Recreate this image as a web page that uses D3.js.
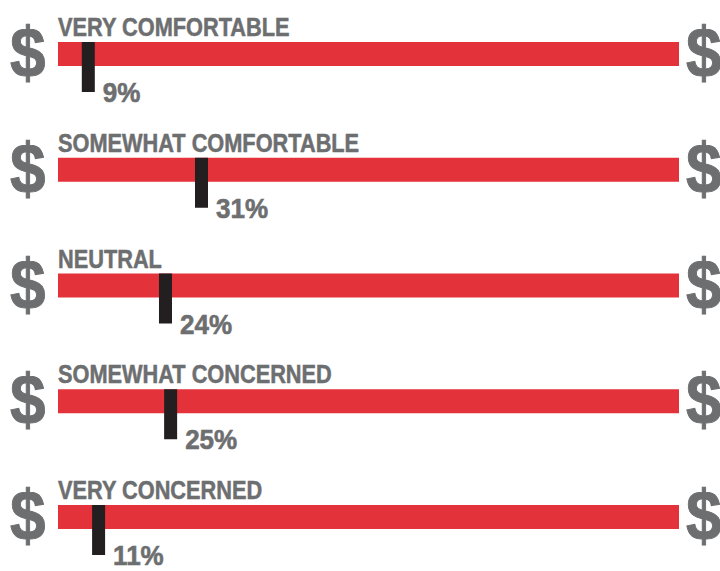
<!DOCTYPE html>
<html><head><meta charset="utf-8">
<script src="https://cdn.jsdelivr.net/npm/d3@7"></script>
<style>html,body{margin:0;padding:0;background:#fff;}</style>
</head><body>
<svg id="chart" width="720" height="571"></svg>
<script>
const categories = ["VERY COMFORTABLE","SOMEWHAT COMFORTABLE","NEUTRAL","SOMEWHAT CONCERNED","VERY CONCERNED"];
const values = [9, 31, 24, 25, 11];
const valueLabels = ["9%","31%","24%","25%","11%"];

const W = 720, H = 571;
const svg = d3.select("#chart");
const red = "#e3323a", gray = "#6d6e70", dark = "#231f20";
const font = "'Liberation Sans',Arial,Helvetica,sans-serif";

const y = d3.scalePoint().domain(categories).range([42, 505]);
const x = d3.scaleLinear().domain([0, 100]).range([42, 556.5]);
const barX0 = 58, barX1 = 679, barH = 24, mW = 13, mH = 50;

const data = categories.map((c, i) => ({c, v: values[i], l: valueLabels[i]}));
const g = svg.selectAll("g.row").data(data).join("g").attr("class","row")
  .attr("transform", d => `translate(0,${y(d.c)})`);

g.append("rect").attr("x", barX0).attr("y", 0).attr("width", barX1 - barX0).attr("height", barH).attr("fill", red);

g.append("text").attr("transform", `translate(${barX0},-6) scale(0.87,1)`)
  .attr("font-family", font).attr("font-weight", "bold").attr("font-size", 25)
  .attr("fill", gray).attr("stroke", gray).attr("stroke-width", 0.5).text(d => d.c);

g.append("rect").attr("x", d => x(d.v) - mW/2).attr("y", 0).attr("width", mW).attr("height", mH).attr("fill", dark);

g.append("text").attr("transform", d => `translate(${x(d.v) + mW/2 + 8},${mH + 10}) scale(0.93,1)`)
  .attr("font-family", font).attr("font-weight", "bold").attr("font-size", 28)
  .attr("fill", gray).attr("stroke", gray).attr("stroke-width", 0.6).text(d => d.l);

[10, 686].forEach(sx => {
  g.append("text").attr("transform", `translate(${sx},${barH/2 + 23}) scale(0.9,1)`)
    .attr("font-family", font).attr("font-weight", "bold").attr("font-size", 71)
    .attr("fill", gray).attr("stroke", gray).attr("stroke-width", 1).text("$");
});
</script>
</body></html>
